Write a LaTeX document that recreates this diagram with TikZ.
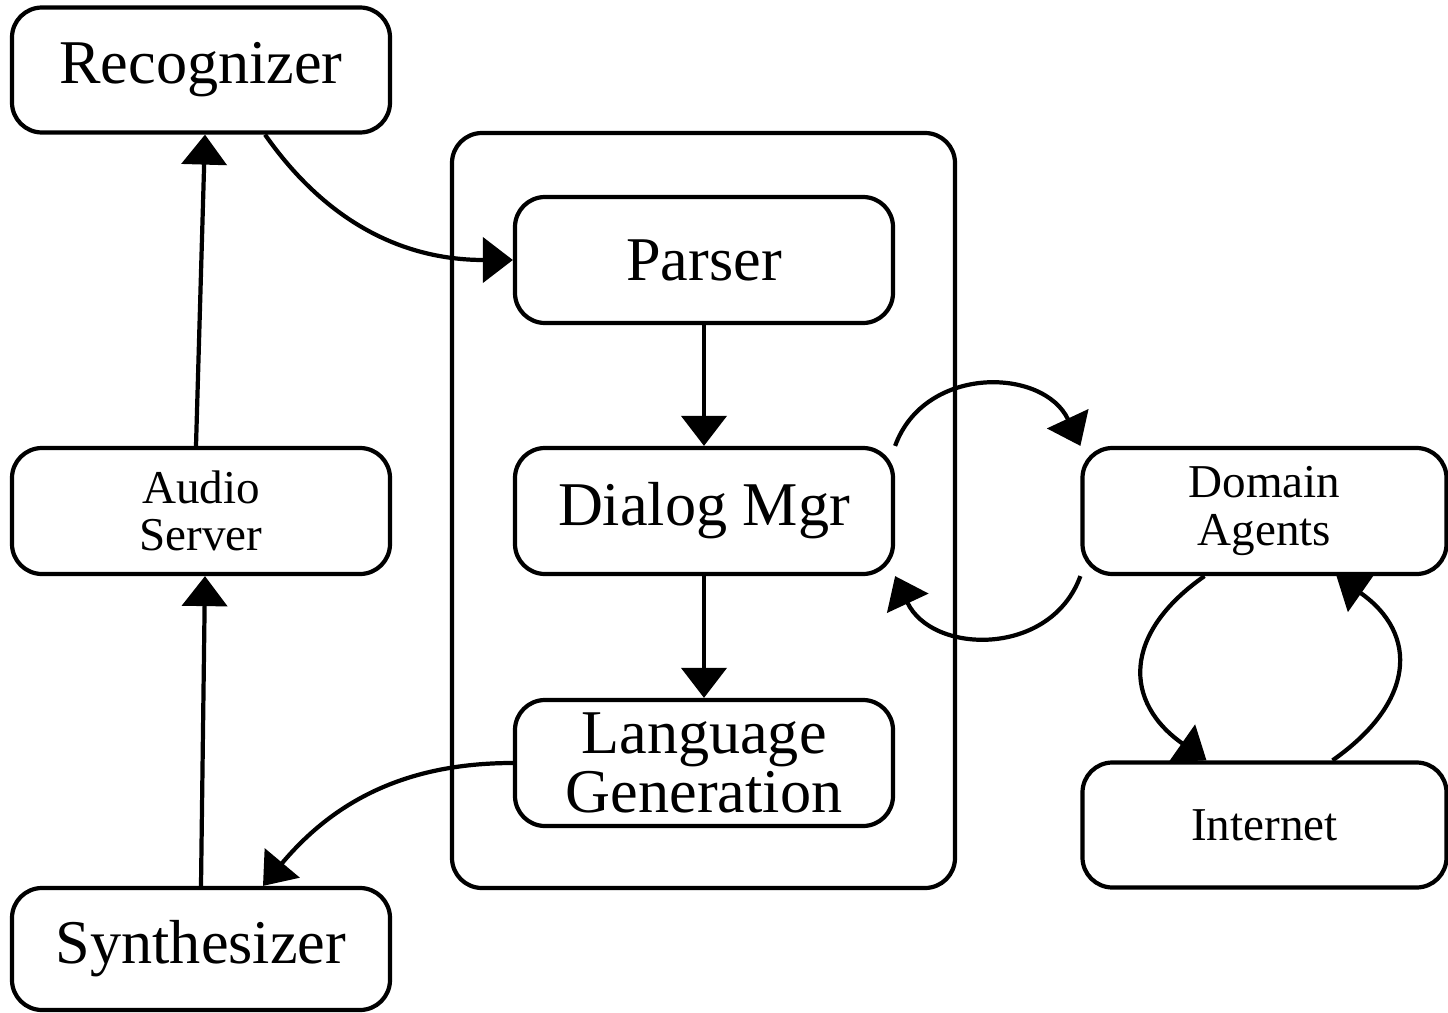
\documentclass[tikz,border=0pt]{standalone}
\usepackage{fontspec}
\setmainfont{Liberation Serif}
\usetikzlibrary{arrows.meta}

\begin{document}
\begin{tikzpicture}[
  box/.style={draw, line width=1.2pt, rounded corners=0.3cm, minimum width=3.78cm, minimum height=1.26cm, align=center, inner sep=0pt},
  bigtext/.style={font=\fontsize{17.7}{17}\selectfont},
  smalltext/.style={font=\fontsize{13.4}{13.4}\selectfont},
  arr/.style={line width=1.2pt, -{Triangle[length=3mm, width=4.5mm]}}
]
\useasboundingbox (0,0) rectangle (14.48,-10.13);
\node[box, minimum width=5.03cm, minimum height=7.55cm] (core) at (7.035,-5.105) {};
\node[box, bigtext, minimum height=1.25cm] (rec) at (2.01,-0.70) {Recognizer};
\node[box, smalltext] (audio) at (2.01,-5.11) {Audio\\Server};
\node[box, bigtext, minimum height=1.22cm] (synth) at (2.01,-9.49) {Synthesizer};
\node[box, bigtext] (parser) at (7.04,-2.60) {Parser};
\node[box, bigtext] (dialog) at (7.04,-5.11) {Dialog Mgr};
\node[box, bigtext] (langgen) at (7.04,-7.63) {Language\\Generation};
\node[box, smalltext, minimum width=3.64cm] (agents) at (12.645,-5.11) {Domain\\Agents};
\node[box, smalltext, minimum width=3.64cm, minimum height=1.25cm] (inet) at (12.645,-8.25) {Internet};
\draw[arr] ([xshift=-0.05cm]audio.north) -- ([xshift=0.04cm]rec.south);
\draw[arr] (synth.north) -- ([xshift=0.04cm]audio.south);
\draw[arr] ([xshift=0.64cm]rec.south) to[out=-55, in=180] (parser.west);
\draw[arr] (parser.south) -- (dialog.north);
\draw[arr] (dialog.south) -- (langgen.north);
\draw[arr] (langgen.west) to[out=180, in=50] ([xshift=0.62cm]synth.north);
\draw[arr] (dialog.north east) to[out=70, in=115, looseness=1.2] (agents.north west);
\draw[arr] (agents.south west) to[out=-110, in=-65, looseness=1.2] (dialog.south east);
\draw[arr] ([xshift=-0.6cm]agents.south) to[out=215, in=145, looseness=1.4] ([xshift=-0.58cm]inet.north);
\draw[arr] ([xshift=0.68cm]inet.north) to[out=35, in=-35, looseness=1.4] ([xshift=0.72cm]agents.south);
\end{tikzpicture}
\end{document}
